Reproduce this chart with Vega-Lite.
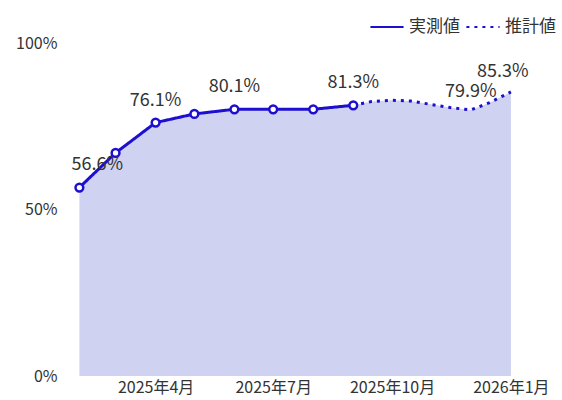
{
  "$schema": "https://vega.github.io/schema/vega-lite/v6.json",
  "width": 500,
  "height": 333,
  "autosize": {"type": "none"},
  "padding": {"left": 60, "top": 43, "right": 2, "bottom": 24},
  "background": "white",
  "config": {
    "view": {"stroke": null},
    "font": "Noto Sans CJK JP",
    "axis": {"labelFont": "Noto Sans CJK JP", "labelColor": "#333", "labelFontSize": 16, "grid": false, "ticks": false, "domain": false, "title": null}
  },
  "data": {
    "values": [
      {"date": "2025-02-01", "value": 56.6, "series": "実測値", "label": "56.6%"},
      {"date": "2025-03-01", "value": 67.0, "series": "実測値", "label": ""},
      {"date": "2025-04-01", "value": 76.1, "series": "実測値", "label": "76.1%"},
      {"date": "2025-05-01", "value": 78.7, "series": "実測値", "label": ""},
      {"date": "2025-06-01", "value": 80.1, "series": "実測値", "label": "80.1%"},
      {"date": "2025-07-01", "value": 80.1, "series": "実測値", "label": ""},
      {"date": "2025-08-01", "value": 80.1, "series": "実測値", "label": ""},
      {"date": "2025-09-01", "value": 81.3, "series": "実測値", "label": "81.3%"},
      {"date": "2025-09-01", "value": 81.3, "series": "推計値", "label": ""},
      {"date": "2025-09-15", "value": 82.4, "series": "推計値", "label": ""},
      {"date": "2025-10-01", "value": 82.8, "series": "推計値", "label": ""},
      {"date": "2025-10-15", "value": 82.6, "series": "推計値", "label": ""},
      {"date": "2025-11-01", "value": 81.5, "series": "推計値", "label": ""},
      {"date": "2025-11-15", "value": 80.6, "series": "推計値", "label": ""},
      {"date": "2025-12-01", "value": 79.9, "series": "推計値", "label": "79.9%"},
      {"date": "2025-12-15", "value": 82.0, "series": "推計値", "label": ""},
      {"date": "2026-01-01", "value": 85.3, "series": "推計値", "label": "85.3%"}
    ]
  },
  "encoding": {
    "x": {
      "field": "date", "type": "temporal",
      "scale": {"type": "utc", "domain": [{"year": 2025, "month": 1, "date": 17, "utc": true}, {"year": 2026, "month": 2, "date": 8, "utc": true}]},
      "axis": {
        "values": [
          {"year": 2025, "month": 4, "date": 1, "utc": true},
          {"year": 2025, "month": 7, "date": 1, "utc": true},
          {"year": 2025, "month": 10, "date": 1, "utc": true},
          {"year": 2026, "month": 1, "date": 1, "utc": true}
        ],
        "labelExpr": "utcFormat(datum.value, '%Y年%-m月')", "labelPadding": 3, "labelOverlap": false
      }
    },
    "y": {
      "field": "value", "type": "quantitative",
      "scale": {"domain": [0, 100]},
      "axis": {"values": [0, 50, 100], "labelExpr": "datum.value + '%'", "labelPadding": 3}
    }
  },
  "layer": [
    {
      "mark": {"type": "area", "color": "#cfd2f1", "opacity": 1, "interpolate": "linear"},
      "encoding": {
        "y": {"field": "value", "type": "quantitative", "stack": null}
      }
    },
    {
      "mark": {"type": "line", "color": "#1d0fcf", "strokeWidth": 3},
      "encoding": {
        "detail": {"field": "series"},
        "strokeDash": {
          "field": "series", "type": "nominal",
          "scale": {"domain": ["実測値", "推計値"], "range": [[1, 0], [3, 5]]},
          "legend": {
            "title": null, "orient": "none", "direction": "horizontal",
            "legendX": 309, "legendY": -34,
            "symbolType": "stroke", "symbolSize": 1100, "symbolStrokeColor": "#1d0fcf", "symbolStrokeWidth": 2,
            "labelFont": "Noto Sans CJK JP", "labelFontSize": 17, "labelColor": "#333",
            "columnPadding": 2, "labelOffset": 4
          }
        }
      }
    },
    {
      "transform": [{"filter": "datum.series == '実測値'"}],
      "mark": {"type": "point", "filled": true, "fill": "white", "stroke": "#1d0fcf", "strokeWidth": 2.5, "size": 60, "opacity": 1}
    },
    {
      "transform": [{"filter": "datum.label != '' && datum.label != '56.6%' && datum.label != '85.3%' && datum.label != '79.9%'"}],
      "mark": {"type": "text", "dy": -22, "fontSize": 18, "color": "#333", "font": "Noto Sans CJK JP"},
      "encoding": {"text": {"field": "label"}}
    },
    {
      "transform": [{"filter": "datum.label == '56.6%'"}],
      "mark": {"type": "text", "dy": -23, "dx": 18, "fontSize": 18, "color": "#333", "font": "Noto Sans CJK JP"},
      "encoding": {"text": {"field": "label"}}
    },
    {
      "transform": [{"filter": "datum.label == '79.9%'"}],
      "mark": {"type": "text", "dy": -18, "dx": 0, "fontSize": 18, "color": "#333", "font": "Noto Sans CJK JP"},
      "encoding": {"text": {"field": "label"}}
    },
    {
      "transform": [{"filter": "datum.label == '85.3%'"}],
      "mark": {"type": "text", "dy": -20, "dx": -8, "fontSize": 18, "color": "#333", "font": "Noto Sans CJK JP"},
      "encoding": {"text": {"field": "label"}}
    }
  ]
}
